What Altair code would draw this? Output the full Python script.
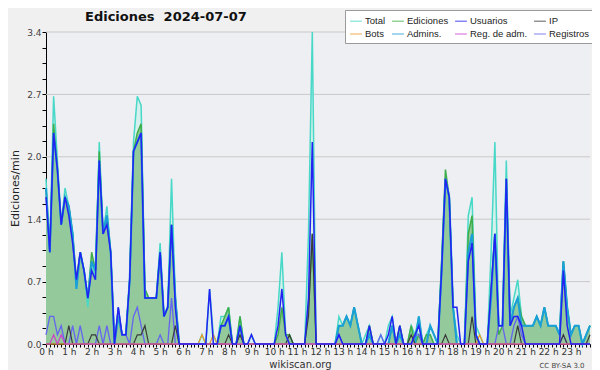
import altair as alt
import pandas as pd

# 10-minute slots over the day (hour value of each slot)
slot_hours = [round(i / 6, 4) for i in range(144)]

# Values, in edits per 10 minutes (÷10 -> edits/min)
total_10 = [
    18, 10, 27, 20, 13, 17,   15, 12, 6, 10, 8, 4,     9, 7, 22, 12, 15, 10,
    0, 4, 1, 1, 7, 22,        27, 26, 6, 5, 5, 5,      11, 3, 4, 18, 5, 0,
    0, 0, 0, 0, 0, 1,         0, 6, 1, 0, 3, 3,        4, 0, 0, 3, 0, 0,
    1, 0, 0, 0, 0, 0,         0, 4, 10, 1, 1, 0,       0, 0, 0, 12, 34, 0,
    0, 0, 0, 0, 0, 3,         2, 3, 2, 4, 2, 0,        1, 2, 0, 0, 1, 0,
    2, 3, 0, 2, 0, 0,         2, 1, 3, 0, 1, 2,        1, 0, 9, 18, 16, 4,
    1, 0, 0, 14, 16, 2,       1, 0, 0, 10, 22, 2,      2, 20, 3, 5, 7, 3,
    2, 2, 2, 3, 2, 4,         2, 2, 2, 1, 9, 4,        1, 2, 2, 0, 1, 2,
]
ediciones_10 = [
    17, 10, 24, 19, 13, 16,   15, 12, 7, 10, 8, 5,     10, 8, 21, 12, 14, 10,
    0, 3, 1, 1, 7, 21,        23, 24, 6, 5, 5, 5,      10, 3, 4, 13, 5, 0,
    0, 0, 0, 0, 0, 0,         0, 0, 0, 0, 2, 3,        4, 0, 0, 3, 0, 0,
    0, 0, 0, 0, 0, 0,         0, 1, 4, 1, 1, 0,        0, 0, 0, 4, 12, 0,
    0, 0, 0, 0, 0, 2,         2, 3, 2, 4, 2, 0,        0, 2, 0, 0, 0, 0,
    0, 2, 0, 2, 0, 0,         2, 0, 1, 0, 1, 1,        0, 0, 9, 19, 16, 4,
    0, 0, 0, 12, 14, 1,       0, 0, 0, 6, 12, 1,       2, 18, 2, 4, 5, 3,
    2, 2, 2, 3, 2, 4,         2, 2, 2, 1, 9, 4,        1, 2, 2, 0, 1, 2,
]
usuarios_10 = [
    16, 10, 23, 19, 13, 16,   14, 11, 7, 10, 8, 5,     8, 7, 20, 12, 13, 10,
    0, 4, 1, 1, 7, 21,        22, 23, 5, 5, 5, 5,      10, 3, 4, 13, 4, 0,
    0, 0, 0, 0, 0, 0,         0, 6, 0, 0, 2, 2,        3, 0, 0, 2, 0, 0,
    1, 0, 0, 0, 0, 0,         0, 2, 6, 1, 0, 0,        0, 0, 0, 5, 22, 0,
    0, 0, 0, 0, 0, 1,         0, 0, 0, 0, 0, 0,        0, 2, 0, 0, 0, 0,
    1, 3, 0, 2, 0, 0,         0, 1, 2, 0, 0, 0,        0, 0, 8, 18, 16, 4,
    4, 0, 0, 9, 11, 1,        0, 0, 0, 6, 12, 2,       2, 18, 2, 3, 3, 2,
    0, 0, 0, 0, 0, 0,         0, 0, 0, 0, 8, 2,        0, 0, 0, 0, 0, 0,
]
ip_10 = [
    0, 0, 0, 0, 0, 0,         2, 0, 0, 0, 0, 0,        1, 1, 0, 0, 0, 0,
    0, 0, 0, 0, 0, 0,         1, 1, 2, 0, 0, 0,        0, 0, 0, 0, 2, 0,
    0, 0, 0, 0, 0, 0,         0, 0, 0, 0, 0, 0,        1, 0, 0, 1, 0, 0,
    0, 0, 0, 0, 0, 0,         0, 0, 0, 0, 1, 0,        0, 0, 0, 3, 12, 0,
    0, 0, 0, 0, 0, 0,         0, 0, 0, 0, 0, 0,        0, 0, 0, 0, 0, 0,
    0, 0, 0, 0, 0, 0,         1, 0, 0, 0, 0, 0,        0, 0, 0, 1, 0, 0,
    0, 0, 0, 0, 3, 0,         0, 0, 0, 0, 0, 0,        0, 0, 0, 0, 2, 0,
    0, 0, 0, 0, 0, 0,         0, 0, 0, 0, 1, 0,        0, 0, 0, 0, 0, 1,
]
bots_10 = [
    0, 0, 0, 0, 0, 0,         0, 0, 0, 0, 0, 0,        0, 0, 0, 0, 0, 0,
    0, 0, 0, 0, 0, 0,         0, 0, 0, 0, 0, 0,        0, 0, 0, 0, 0, 0,
    0, 0, 0, 0, 0, 1,         0, 0, 1, 0, 0, 0,        0, 0, 0, 0, 0, 0,
    0, 0, 0, 0, 0, 0,         0, 0, 0, 0, 0, 0,        0, 0, 0, 0, 0, 0,
    0, 0, 0, 0, 0, 0,         0, 0, 0, 0, 0, 0,        0, 0, 0, 0, 0, 0,
    0, 0, 0, 0, 0, 0,         0, 0, 0, 0, 0, 0,        0, 0, 0, 0, 0, 0,
    0, 0, 0, 0, 0, 0,         1, 0, 0, 0, 0, 0,        0, 0, 0, 0, 0, 0,
    0, 0, 0, 0, 0, 0,         0, 0, 0, 0, 0, 0,        0, 0, 0, 0, 0, 0,
]
admins_10 = [
    17, 10, 23, 19, 13, 16,   15, 12, 6, 10, 8, 5,     9, 8, 20, 12, 14, 10,
    0, 3, 1, 1, 7, 21,        22, 23, 5, 5, 5, 5,      10, 3, 4, 13, 5, 0,
    0, 0, 0, 0, 0, 0,         0, 0, 0, 0, 2, 2,        3, 0, 0, 2, 0, 0,
    0, 0, 0, 0, 0, 0,         0, 0, 0, 0, 0, 0,        0, 0, 0, 0, 0, 0,
    0, 0, 0, 0, 0, 2,         2, 3, 2, 4, 2, 0,        0, 1, 0, 0, 0, 0,
    0, 2, 0, 1, 0, 0,         0, 0, 3, 0, 0, 2,        1, 0, 8, 18, 16, 4,
    0, 0, 0, 10, 12, 1,       0, 0, 0, 5, 12, 2,       2, 18, 2, 4, 5, 2,
    2, 2, 2, 3, 2, 4,         2, 2, 2, 1, 9, 4,        1, 2, 2, 0, 1, 2,
]
regadm_10 = [
    0, 0, 1, 0, 1, 0] + [0] * 138
registros_10 = [
    1, 3, 3, 1, 2, 0,         0, 2, 0, 2, 0, 0,        0, 0, 2, 0, 2, 0,
    0, 4, 1, 1, 0, 3,         4, 2, 0, 0, 0, 0,        1, 0, 0, 5, 0, 0,
    0, 0, 0, 0, 0, 0,         0, 0, 0, 0, 0, 0,        0, 0, 0, 0, 0, 0,
    0, 0, 0, 0, 0, 0,         0, 0, 0, 0, 0, 0,        0, 0, 0, 0, 0, 0,
    0, 0, 0, 0, 0, 1,         0, 0, 0, 0, 0, 0,        0, 0, 0, 0, 1, 0,
    0, 0, 0, 0, 0, 0,         0, 1, 1, 0, 0, 0,        0, 0, 0, 0, 0, 0,
    0, 0, 0, 0, 0, 0,         0, 0, 0, 0, 0, 2,        2, 0, 0, 2, 3, 1,
    0, 0, 0, 0, 0, 0,         0, 0, 0, 0, 1, 0,        0, 0, 0, 0, 0, 0,
]

series_names = ["Total", "Ediciones", "Usuarios", "IP", "Bots", "Admins.", "Reg. de adm.", "Registros"]
series_values = [total_10, ediciones_10, usuarios_10, ip_10, bots_10, admins_10, regadm_10, registros_10]
series_colors = ["#48d8c8", "#3fae48", "#2222f2", "#3a3a3a", "#eb9a2a", "#1a9fd9", "#cf3fcf", "#6565f0"]
series_widths = [1.5, 1.5, 1.5, 1.2, 1.2, 2.0, 1.2, 1.3]

y_major = [0, 0.68, 1.36, 2.04, 2.72, 3.4]
y_ticks = [round(k * 0.17, 2) for k in range(21)]

long_df = pd.DataFrame([
    {"hora": h, "serie": name, "valor": v / 10}
    for name, vals in zip(series_names, series_values)
    for h, v in zip(slot_hours, vals)
])
wide_df = pd.DataFrame({
    "hora": slot_hours,
    "total": [v / 10 for v in total_10],
    "ediciones": [v / 10 for v in ediciones_10],
})

FONT = "DejaVu Sans"
NARROW = "Liberation Sans Narrow, Liberation Sans, Arial, sans-serif"
xscale = alt.Scale(domain=[0, slot_hours[-1]], nice=False, zero=False)
yscale = alt.Scale(domain=[0, 3.4], nice=False)

xaxis = alt.Axis(
    values=slot_hours,
    labelExpr="datum.value == floor(datum.value) ? datum.value + ' h' : ''",
    labelOverlap=False, labelFlush=False, labelFontSize=9, labelFont=FONT,
    labelColor="#333333", labelPadding=0, tickSize=3, tickColor="#000000",
    domainColor="#000000", grid=False,
    title="wikiscan.org", titleFont=FONT, titleFontSize=10, titleFontWeight="normal",
    titleColor="#333333", titleX=254, titleY=20, titleBaseline="middle", titleAlign="center",
)
yaxis = alt.Axis(
    values=y_ticks,
    labelExpr="indexof([0, 0.68, 1.36, 2.04, 2.72, 3.4], datum.value) >= 0 ? format(datum.value, '.1f') : ''",
    labelOverlap=False, labelFlush=False, labelFontSize=9, labelFont=FONT,
    labelColor="#444444", labelPadding=1, tickSize=4, tickColor="#000000",
    domainColor="#000000", grid=False,
    title="Ediciones/min", titleFont=FONT, titleFontSize=11, titleFontWeight="normal",
    titleColor="#222222", titleAngle=270, titleX=-31, titleY=156,
    titleAlign="center", titleBaseline="middle",
)

X = alt.X("hora:Q", scale=xscale, axis=xaxis)

grid = alt.Chart(pd.DataFrame({"g": y_major[1:]})).mark_rule(
    color="#c9c9c9", strokeWidth=1
).encode(y=alt.Y("g:Q", scale=yscale, axis=yaxis))

area_total = alt.Chart(wide_df).mark_area(color="#d3f1ec", opacity=0.9).encode(
    x=X, y=alt.Y("total:Q", scale=yscale, axis=yaxis))
area_ed = alt.Chart(wide_df).mark_area(color="#93c99b", opacity=1).encode(
    x=X, y=alt.Y("ediciones:Q", scale=yscale, axis=yaxis))

cscale = alt.Scale(domain=series_names, range=series_colors)
legend = alt.Legend(
    title=None, orient="none", legendX=299, legendY=-22, columns=4,
    direction="horizontal", gridAlign="each",
    symbolType="stroke", symbolSize=140, symbolStrokeWidth=1.5, symbolOpacity=0.55,
    labelFont=NARROW, labelFontSize=9.5, labelColor="#222222", labelOffset=2,
    fillColor="#ffffff", strokeColor="#9a9a9a", padding=4, rowPadding=1,
    columnPadding=3,
)

draw_order = ["Total", "Ediciones", "Admins.", "Registros", "IP", "Bots", "Reg. de adm.", "Usuarios"]
lines = []
for name in draw_order:
    w = series_widths[series_names.index(name)]
    lines.append(
        alt.Chart(long_df).transform_filter(alt.datum.serie == name)
        .mark_line(strokeWidth=w, interpolate="linear")
        .encode(x=X, y=alt.Y("valor:Q", scale=yscale, axis=yaxis),
                color=alt.Color("serie:N", scale=cscale, legend=legend))
    )

title_txt = alt.Chart(pd.DataFrame({"t": ["Ediciones\u00a0 2024-07-07"]})).mark_text(
    align="left", baseline="middle", font=FONT, fontSize=13, fontWeight="bold", color="#111111"
).encode(text="t:N", x=alt.value(39), y=alt.value(-15))

cc_txt = alt.Chart(pd.DataFrame({"t": ["CC BY-SA 3.0"]})).mark_text(
    align="center", baseline="middle", font=FONT, fontSize=7, color="#444444"
).encode(text="t:N", x=alt.value(516), y=alt.value(22 + 312))

chart = alt.layer(grid, area_total, area_ed, *lines, title_txt, cc_txt).properties(
    width=544, height=312,
    padding={"left": 38, "top": 24, "right": 2, "bottom": 26},
    autosize=alt.AutoSizeParams(type="none"),
    background="#f0f0f0",
).configure_view(fill="#edeff2", stroke=None)

chart.save("out.html", embed_options={"renderer": "svg", "actions": False})
